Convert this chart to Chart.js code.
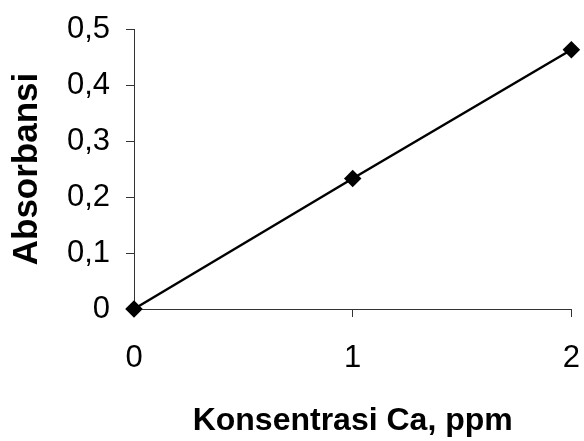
<!DOCTYPE html>
<html>
<head>
    <title>Absorbansi vs Konsentrasi Ca</title>
    <script src="https://cdn.jsdelivr.net/npm/chart.js"></script>
    <style>
        html, body { margin: 0; padding: 0; background: #fff; }
        canvas { display: block; }
    </style>
</head>
<body>
<canvas id="calChart" width="584" height="441"></canvas>

<script>
    // data
    const concentrations = [0, 1, 2];          // ppm Ca
    const absorbance = [0, 0.233, 0.463];
    const yTicks = [0, 0.1, 0.2, 0.3, 0.4, 0.5];
    const xTicks = [0, 1, 2];

    const fontFamily = '"Liberation Sans", Arial, sans-serif';
    const ink = '#000';
    const axisColor = '#333';

    const points = concentrations.map((c, i) => ({ x: c, y: absorbance[i] }));

    const ctx = document.getElementById('calChart').getContext('2d');
    new Chart(ctx, {
        type: 'scatter',
        data: {
            datasets: [{
                data: points,
                showLine: true,
                borderColor: ink,
                borderWidth: 2.5,
                pointStyle: 'rectRot',
                pointRadius: 7,
                pointBackgroundColor: ink,
                pointBorderColor: ink,
                clip: false
            }]
        },
        options: {
            responsive: false,
            animation: false,
            layout: { padding: { top: 20, right: 0, left: 0, bottom: 0 } },
            plugins: {
                legend: { display: false },
                tooltip: { enabled: false }
            },
            scales: {
                x: {
                    type: 'linear',
                    min: 0,
                    max: 2,
                    afterFit: s => { s.height = 132; },
                    afterBuildTicks: s => { s.ticks = xTicks.map(v => ({ value: v })); },
                    grid: { drawOnChartArea: false, color: axisColor, tickLength: 8 },
                    border: { color: axisColor, width: 1 },
                    ticks: {
                        color: ink,
                        padding: 4,
                        // tall line box pushes the labels down without widening the side padding
                        font: { family: fontFamily, size: 31, lineHeight: 2.4 },
                        callback: v => String(v)
                    },
                    title: {
                        display: true,
                        text: 'Konsentrasi Ca, ppm',
                        color: ink,
                        font: { family: fontFamily, size: 32, weight: 'bold' },
                        padding: { top: 0, bottom: 1 }
                    }
                },
                y: {
                    type: 'linear',
                    min: 0,
                    max: 0.5,
                    afterFit: s => { s.width = 134; },
                    afterBuildTicks: s => { s.ticks = yTicks.map(v => ({ value: v })); },
                    grid: { drawOnChartArea: false, color: axisColor, tickLength: 8 },
                    border: { color: axisColor, width: 1 },
                    ticks: {
                        color: ink,
                        padding: 16,
                        // small line box keeps the top padding tight
                        font: { family: fontFamily, size: 31, lineHeight: 0.84 },
                        callback: v => v === 0 ? '0' : v.toFixed(1).replace('.', ',')
                    },
                    title: {
                        display: true,
                        text: 'Absorbansi',
                        color: ink,
                        font: { family: fontFamily, size: 35, weight: 'bold' },
                        padding: { top: 6, bottom: 0 }
                    }
                }
            }
        }
    });
</script>
</body>
</html>
